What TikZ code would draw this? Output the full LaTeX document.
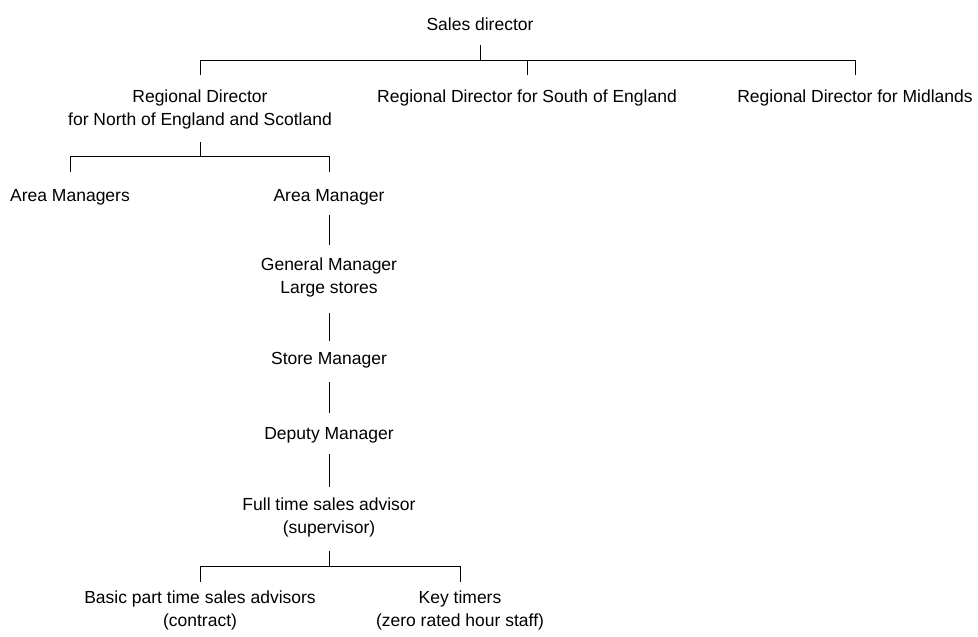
\documentclass[tikz,border=0pt]{standalone}
\usepackage{fontspec}
\setmainfont{Liberation Sans}
\begin{document}
\begin{tikzpicture}[x=1pt,y=-1pt,
  role/.style={anchor=north,inner sep=0pt,align=center,font=\fontsize{17.5}{22.5}\selectfont},
  link/.style={draw=black,line width=0.9pt}]
\useasboundingbox (0,0) rectangle (978,637);
% nodes
\node[role] (sd)  at (480,18)  {Sales director};
\node[role] (rdn) at (200,90)  {Regional Director\\for North of England and Scotland};
\node[role] (rds) at (527,90)  {Regional Director for South of England};
\node[role] (rdm) at (855,90)  {Regional Director for Midlands};
\node[role] (ams) at (70,189)  {Area Managers};
\node[role] (am)  at (329,189) {Area Manager};
\node[role] (gm)  at (329,258) {General Manager\\Large stores};
\node[role] (sm)  at (329,352) {Store Manager};
\node[role] (dm)  at (329,427) {Deputy Manager};
\node[role] (ft)  at (329,498) {Full time sales advisor\\(supervisor)};
\node[role] (bp)  at (200,591) {Basic part time sales advisors\\(contract)};
\node[role] (kt)  at (460,591) {Key timers\\(zero rated hour staff)};
% bus levels
\coordinate (bus1) at (0,60);
\coordinate (bus2) at (0,156);
\coordinate (bus3) at (0,566);
% connectors
\draw[link] ([yshift=-14pt]sd.south) -- (sd.south |- bus1);
\draw[link] ([yshift=15pt]rdn.north) -- (rdn.north |- bus1) -- (rdm.north |- bus1) -- ([yshift=15pt]rdm.north);
\draw[link] (rds.north |- bus1) -- ([yshift=15pt]rds.north);
\draw[link] ([yshift=-13pt]rdn.south) -- (rdn.south |- bus2);
\draw[link] ([yshift=17pt]ams.north) -- (ams.north |- bus2) -- (am.north |- bus2) -- ([yshift=17pt]am.north);
\draw[link] ([yshift=-10pt]am.south) -- ([yshift=13pt]gm.north);
\draw[link] ([yshift=-16pt]gm.south) -- ([yshift=11pt]sm.north);
\draw[link] ([yshift=-14pt]sm.south) -- ([yshift=14pt]dm.north);
\draw[link] ([yshift=-11pt]dm.south) -- ([yshift=11pt]ft.north);
\draw[link] ([yshift=-14pt]ft.south) -- (ft.south |- bus3);
\draw[link] ([yshift=9pt]bp.north) -- (bp.north |- bus3) -- (kt.north |- bus3) -- ([yshift=9pt]kt.north);
\end{tikzpicture}
\end{document}
